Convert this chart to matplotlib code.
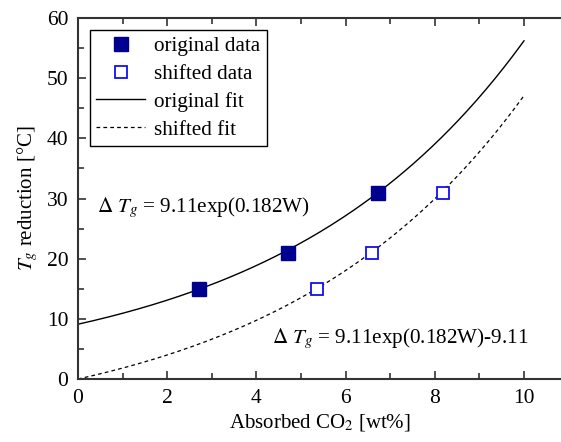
import numpy as np
import matplotlib.pyplot as plt
from matplotlib.ticker import MultipleLocator

plt.rcParams["font.family"] = "Liberation Serif"
plt.rcParams["mathtext.fontset"] = "stix"

orig_x = [2.72, 4.72, 6.72]
orig_y = [15.0, 21.0, 31.0]
shift_x = [5.37, 6.6, 8.18]
shift_y = [15.0, 21.0, 31.0]

# fit coefficients (as given in the annotations)
amp = 9.11
rate = 0.182

w = np.linspace(0, 10, 200)
fit_orig = amp * np.exp(rate * w)
fit_shift = amp * np.exp(rate * w) - amp

fig = plt.figure(figsize=(5.61, 4.42), dpi=100)
ax = fig.add_axes([0.139, 0.1425, 0.861, 0.8165])

ax.plot(orig_x, orig_y, "s", color="#000090", markersize=9.5, label="original data", zorder=3)
ax.plot(shift_x, shift_y, "s", markerfacecolor="white", markeredgecolor="#1010f0",
        markeredgewidth=1.3, markersize=9.3, label="shifted data", zorder=3)
ax.plot(w, fit_orig, "-", color="black", linewidth=1.0, label="original fit")
ax.plot(w, fit_shift, "--", color="black", linewidth=0.9, dashes=(3, 2.5), label="shifted fit")

ax.set_xlim(0, 10.83)
ax.set_ylim(0, 60)
ax.xaxis.set_major_locator(MultipleLocator(2))
ax.xaxis.set_minor_locator(MultipleLocator(1))
ax.yaxis.set_major_locator(MultipleLocator(10))
ax.yaxis.set_minor_locator(MultipleLocator(5))

ax.tick_params(which="both", direction="in", top=True, right=False, labelsize=15.5,
               color="#333333", width=1.2, pad=7)
ax.tick_params(which="major", length=6)
ax.tick_params(which="minor", length=4)
ax.spines["right"].set_visible(False)
for s in ["left", "bottom", "top"]:
    ax.spines[s].set_linewidth(1.5)
    ax.spines[s].set_color("#333333")

ax.set_xlabel("Absorbed CO$_2$ [wt%]", fontsize=15, labelpad=3)
ax.set_ylabel("$T_g$ reduction [°C]", fontsize=15, labelpad=5)

ax.text(0.43, 28.5, r"$\Delta\ T_g$ = 9.11exp(0.182W)", fontsize=15.2, va="center")
ax.text(4.35, 6.8, r"$\Delta\ T_g$ = 9.11exp(0.182W)-9.11", fontsize=15.2, va="center")

leg = ax.legend(loc="upper left", bbox_to_anchor=(0.025, 0.967), fontsize=15.2,
                fancybox=False, framealpha=1, edgecolor="black",
                handlelength=2.3, handletextpad=0.45, borderpad=0.3,
                labelspacing=0.38, borderaxespad=0.0)
leg.get_frame().set_linewidth(1.0)

fig.savefig("out.png", dpi=100)
